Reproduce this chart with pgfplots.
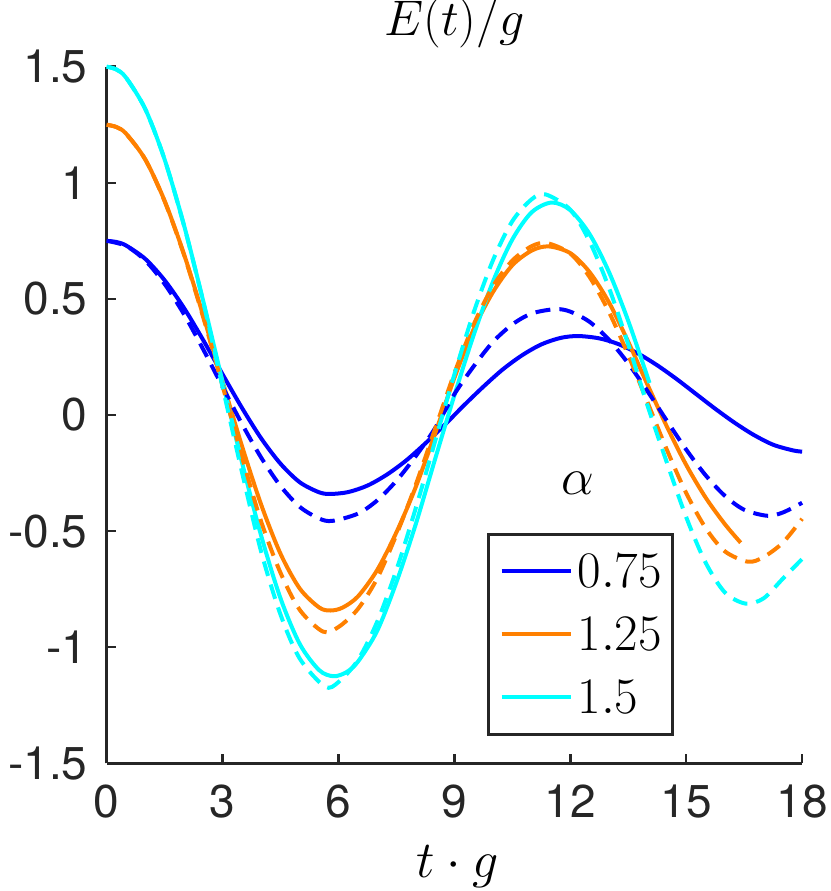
\RequirePackage{fix-cm}
\documentclass[border=0pt]{standalone}
\usepackage{fontspec}
\setmainfont{TeX Gyre Heros}
\usepackage{pgfplots}
\pgfplotsset{compat=1.18}

\definecolor{axgray}{HTML}{262626}
\definecolor{mblue}{rgb}{0,0,1}
\definecolor{morange}{rgb}{1,0.5,0}
\definecolor{mcyan}{rgb}{0,1,1}

\begin{document}
\begin{tikzpicture}
\begin{axis}[
    name=ax,
    scale only axis,
    width=347.7pt, height=348.3pt,
    xmin=0, xmax=18, ymin=-1.5, ymax=1.5,
    clip=false,
    axis x line*=bottom, axis y line*=left,
    axis line style={draw=axgray, line width=1.5pt},
    tick align=inside, major tick length=4.5pt,
    tick style={draw=axgray, line width=1.2pt},
    xtick={0,3,6,9,12,15,18},
    xticklabels={0,3,6,9,12,15,18},
    ytick={-1.5,-1,-0.5,0,0.5,1,1.5},
    yticklabels={-1.5,-1,-0.5,0,0.5,1,1.5},
    ticklabel style={font=\fontsize{23}{23}\selectfont, text=axgray, inner sep=0pt},
    xticklabel style={anchor=north, yshift=-10.8pt},
    yticklabel style={anchor=east, xshift=-9.4pt},
    every axis title shift=0pt,
    title={$E(t)/g$},
    title style={font=\fontsize{25}{25}\selectfont, at={(0.5,1)}, anchor=base, yshift=15.5pt, inner sep=0pt},
    xlabel={$t\cdot g$},
    xlabel style={font=\fontsize{26}{26}\selectfont, at={(axis description cs:0.505,0)}, anchor=base, yshift=-57.3pt, inner sep=0pt},
    legend cell align=left,
    legend image code/.code={\draw[#1] (0pt,0pt) -- (34.5pt,0pt);},
    legend style={at={(0.547,0.331)}, anchor=north west, draw=axgray, line width=1.5pt, fill=white,
        inner xsep=5.5pt, inner ysep=10.2pt, row sep=15pt, column sep=2.5pt,
        font=\fontsize{25.6}{25.6}\selectfont,
        nodes={inner sep=0pt, text height=16.5pt, text depth=0pt}},
    every axis plot/.append style={line width=2pt},
    dashed line/.style={dash pattern=on 7.5pt off 4.5pt},
]

% solid lines
\addplot[mblue, smooth] coordinates {
(0,0.75) (0.25,0.745) (0.5,0.730) (1,0.672) (1.5,0.580) (2,0.461) (2.5,0.322) (3,0.175)
(3.5,0.031) (4,-0.101) (4.5,-0.21) (5,-0.290) (5.5,-0.333) (5.8,-0.34) (6.25,-0.332)
(6.75,-0.304) (7.25,-0.257) (7.75,-0.196) (8.25,-0.122) (8.75,-0.042) (9.25,0.042)
(9.75,0.122) (10.25,0.196) (10.75,0.257) (11.25,0.304) (11.75,0.332) (12.2,0.34)
(12.75,0.330) (13.25,0.305) (13.75,0.265) (14.25,0.214) (14.75,0.155) (15.25,0.091)
(15.75,0.027) (16.25,-0.033) (16.75,-0.086) (17.25,-0.128) (17.75,-0.152) (18,-0.158)};
\addlegendentry{$0.75$}

\addplot[morange, smooth] coordinates {
(0,1.25) (0.25,1.240) (0.5,1.212) (1,1.10) (1.5,0.922) (2,0.693) (2.5,0.427) (3,0.144)
(3.5,-0.133) (4,-0.387) (4.5,-0.598) (5,-0.748) (5.5,-0.829) (5.79,-0.842) (6.1,-0.830)
(6.5,-0.782) (7,-0.668) (7.5,-0.505) (8,-0.31) (8.5,-0.08) (9,0.16) (9.5,0.37) (10,0.53)
(10.5,0.645) (11,0.708) (11.44,0.726) (12,0.697) (12.5,0.615) (13,0.485) (13.5,0.315)
(14,0.13) (14.5,-0.05) (15,-0.215) (15.5,-0.355) (16,-0.47) (16.41,-0.55)};
\addlegendentry{$1.25$}

\addplot[mcyan, smooth] coordinates {
(0,1.5) (0.25,1.488) (0.5,1.453) (1,1.317) (1.5,1.10) (2,0.818) (2.5,0.49) (3,0.142)
(3.5,-0.203) (4,-0.521) (4.5,-0.79) (5,-0.987) (5.5,-1.099) (5.87,-1.125) (6.2,-1.108)
(6.5,-1.063) (7,-0.93) (7.5,-0.72) (8,-0.47) (8.5,-0.19) (9,0.085) (9.5,0.345) (10,0.575)
(10.5,0.756) (11,0.873) (11.52,0.915) (12,0.882) (12.5,0.779) (13,0.616) (13.5,0.405)
(14.05,0.138)};
\addlegendentry{$1.5$}

% dashed lines
\addplot[mblue, smooth, dashed line, forget plot] coordinates {
(0,0.75) (0.5,0.728) (1,0.665) (1.5,0.564) (2,0.434) (2.5,0.282) (3,0.121) (3.5,-0.038)
(4,-0.184) (4.5,-0.306) (5,-0.396) (5.5,-0.446) (5.84,-0.456) (6.5,-0.425) (7,-0.368)
(7.5,-0.283) (8,-0.177) (8.5,-0.057) (9,0.09) (9.5,0.21) (10,0.315) (10.5,0.39) (11,0.437)
(11.62,0.456) (12,0.445) (12.5,0.401) (13,0.324) (13.5,0.222) (14,0.102) (14.5,-0.025)
(15,-0.149) (15.5,-0.259) (16,-0.348) (16.5,-0.408) (17.1,-0.434) (17.5,-0.42) (18,-0.378)};

\addplot[morange, smooth, dashed line, forget plot] coordinates {
(0,1.25) (0.25,1.240) (0.5,1.211) (1,1.10) (1.5,0.92) (2,0.69) (2.5,0.42) (3,0.125)
(3.5,-0.18) (4,-0.46) (4.5,-0.68) (5,-0.84) (5.6,-0.933) (6,-0.913) (6.5,-0.836)
(7,-0.704) (7.5,-0.515) (8,-0.30) (8.5,-0.06) (9,0.18) (9.5,0.39) (10,0.555) (10.5,0.665)
(11,0.727) (11.4,0.74) (12,0.695) (12.5,0.594) (13,0.444) (13.5,0.258) (14,0.054)
(14.5,-0.150) (15,-0.336) (15.5,-0.486) (16,-0.587) (16.6,-0.632) (17,-0.612) (17.5,-0.55)
(18,-0.447)};

\addplot[mcyan, smooth, dashed line, forget plot] coordinates {
(0,1.5) (0.25,1.488) (0.5,1.453) (1,1.317) (1.5,1.10) (2,0.816) (2.5,0.485) (3,0.12)
(3.5,-0.245) (4,-0.59) (4.5,-0.86) (5,-1.05) (5.65,-1.17) (6,-1.15) (6.5,-1.056)
(7,-0.891) (7.5,-0.667) (8,-0.401) (8.5,-0.113) (9,0.175) (9.5,0.442) (10,0.667)
(10.5,0.835) (11,0.929) (11.36,0.95) (12,0.884) (12.5,0.747) (13,0.548) (13.5,0.304)
(14,0.04) (14.5,-0.205) (15,-0.44) (15.5,-0.635) (16,-0.764) (16.53,-0.812) (17,-0.79)
(17.5,-0.705) (18,-0.62)};

\node[font=\fontsize{26}{26}\selectfont, inner sep=0pt] at (rel axis cs:0.678,0.402) {$\alpha$};
\end{axis}
\pgfresetboundingbox
\path[use as bounding box] ([xshift=-53.35pt,yshift=-63.85pt]ax.south west) rectangle ([xshift=13.95pt,yshift=33.35pt]ax.north east);
\end{tikzpicture}
\end{document}
